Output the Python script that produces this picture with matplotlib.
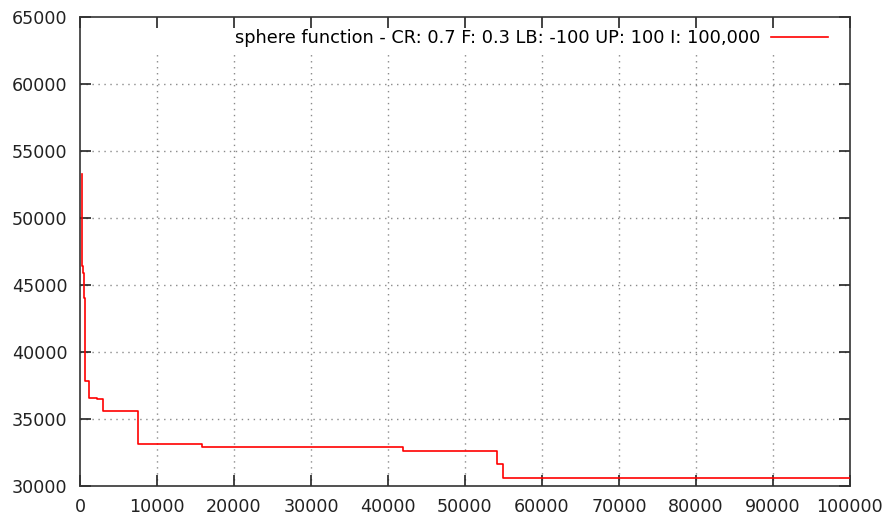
import matplotlib
matplotlib.use("Agg")
import matplotlib.pyplot as plt

# best fitness found so far, as step changes (iteration -> value)
iterations = [200, 250, 350, 550, 700, 1200, 2200, 2950, 7500, 15900, 42000, 54200, 54950, 100000]
best_values = [53300, 46400, 45900, 44000, 37800, 36600, 36500, 35600, 33150, 32900, 32600, 31650, 30600, 30600]

label = "sphere function - CR: 0.7 F: 0.3 LB: -100 UP: 100 I: 100,000"
x_ticks = list(range(0, 100001, 10000))
y_ticks = list(range(30000, 65001, 5000))

plt.rcParams.update({"font.family": "DejaVu Sans", "font.size": 12.6})

fig = plt.figure(figsize=(8.87, 5.2), dpi=100)
ax = fig.add_axes([80 / 887, 34 / 520, 770 / 887, 469 / 520])

ax.step(iterations, best_values, where="post", color="#ff0000", lw=1.2, label=label,
        zorder=3)

ax.set_xlim(0, 100000)
ax.set_ylim(30000, 65000)
ax.set_xticks(x_ticks)
ax.set_yticks(y_ticks)
ax.set_xticklabels([str(t) for t in x_ticks])
ax.set_yticklabels([str(t) for t in y_ticks])

# gnuplot-like grid: dotted, kept clear of the key row at the top
grid_style = dict(color="#8a8a8a", linestyle=(0, (1, 3.3)), lw=1.0, zorder=1)
key_clear = (486 - 52) / 469
for xt in x_ticks[1:-1]:
    ax.axvline(xt, ymin=0.0, ymax=key_clear, **grid_style)
for yt in y_ticks[1:-1]:
    ax.axhline(yt, xmin=0.0, xmax=1.0, **grid_style)

ax.tick_params(direction="in", length=8, width=1.2, top=True, right=True,
               color="#222222", labelcolor="#222222")
ax.tick_params(axis="y", pad=9)
ax.tick_params(axis="x", pad=9)
for s in ax.spines.values():
    s.set_linewidth(1.2)
    s.set_color("#333333")

ax.legend(loc="upper right", frameon=False, markerfirst=False,
          handlelength=3.2, handletextpad=0.6, borderaxespad=0.3,
          bbox_to_anchor=(0.988, 1.0), fontsize=12.8)

fig.savefig("out.png", dpi=100)
